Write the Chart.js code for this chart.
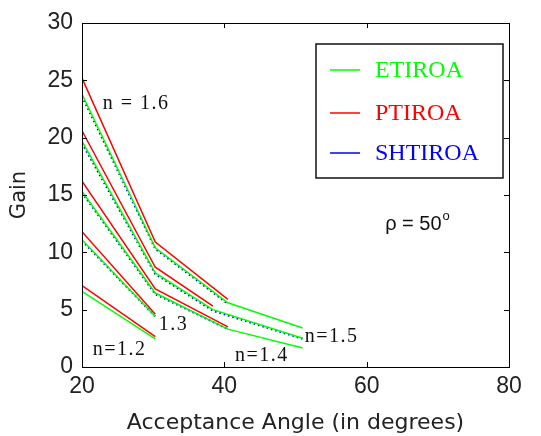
<!DOCTYPE html>
<html>
<head>
<meta charset="utf-8">
<script src="https://cdn.jsdelivr.net/npm/chart.js@4/dist/chart.umd.min.js"></script>
<style>
  html, body { margin: 0; padding: 0; background: #fff; }
  #wrap { width: 541px; height: 436px; }
</style>
</head>
<body>
<div id="wrap"><canvas id="myChart" width="541" height="436"></canvas></div>
<script>
// angles where the curves bend / end
const angles = [20, 30.3, 38.4, 40.5, 51];

// gain values per refractive index, null = no point there
const etiroa12 = [6.6, 2.45, null, null, null];
const etiroa13 = [11.1, 4.4, null, null, null];
const etiroa14 = [15.3, 6.45, null, 3.3, 1.65];
const etiroa15 = [19.7, 8.2, 5.0, null, 2.5];
const etiroa16 = [23.8, 10.4, null, 5.6, 3.4];

const ptiroa12 = [7.1, 2.65, null, null, null];
const ptiroa13 = [11.8, 4.6, null, null, null];
const ptiroa14 = [16.2, 6.8, null, 3.5, null];
const ptiroa15 = [20.6, 8.7, 5.3, null, null];
const ptiroa16 = [25.2, 10.9, null, 5.9, null];

const shtiroa13 = [11.0, 4.4, null, null, null];
const shtiroa14 = [15.2, 6.35, null, 3.3, null];
const shtiroa15 = [19.5, 8.1, 4.9, null, 2.45];
const shtiroa16 = [23.6, 10.3, null, 5.5, null];

const xTicks = [20, 40, 60, 80];
const yTicks = [0, 5, 10, 15, 20, 25, 30];

const noteText = ['n = 1.6', 'n=1.2', '1.3', 'n=1.4', 'n=1.5'];
const noteX = [22.9, 21.5, 30.8, 41.5, 51.3];
const noteY = [23.0, 1.5, 3.7, 0.95, 2.6];

function pts(vals) {
  const out = [];
  vals.forEach((v, i) => { if (v !== null) out.push({x: angles[i], y: v}); });
  return out;
}

function curve(label, vals, color, dashed) {
  return {
    label: label,
    data: pts(vals),
    borderColor: color,
    borderWidth: dashed ? 2 : 1.5,
    borderDash: dashed ? [1.5, 3] : [],
    pointRadius: 0,
    tension: 0,
    fill: false
  };
}

const green = '#00ff00', red = '#ff0000', blue = '#0000ff';

const datasets = [
  curve('ETIROA', etiroa12, green), curve('ETIROA', etiroa13, green), curve('ETIROA', etiroa14, green),
  curve('ETIROA', etiroa15, green), curve('ETIROA', etiroa16, green),
  curve('PTIROA', ptiroa12, red), curve('PTIROA', ptiroa13, red), curve('PTIROA', ptiroa14, red),
  curve('PTIROA', ptiroa15, red), curve('PTIROA', ptiroa16, red),
  curve('SHTIROA', shtiroa13, blue, true), curve('SHTIROA', shtiroa14, blue, true),
  curve('SHTIROA', shtiroa15, blue, true), curve('SHTIROA', shtiroa16, blue, true)
];

const legendItems = [['ETIROA', green], ['PTIROA', red], ['SHTIROA', blue]];

const decor = {
  id: 'decor',
  afterDraw(chart) {
    const c = chart.ctx, a = chart.chartArea;
    const xs = chart.scales.x, ys = chart.scales.y;
    c.save();
    // box and inward ticks
    c.strokeStyle = '#000';
    c.lineWidth = 1;
    c.strokeRect(a.left + 0.5, a.top + 0.5, a.right - a.left, a.bottom - a.top);
    c.beginPath();
    xTicks.slice(1, -1).forEach(v => {
      const p = Math.round(xs.getPixelForValue(v)) + 0.5;
      c.moveTo(p, a.bottom); c.lineTo(p, a.bottom - 5);
      c.moveTo(p, a.top); c.lineTo(p, a.top + 5);
    });
    yTicks.slice(1, -1).forEach(v => {
      const p = Math.round(ys.getPixelForValue(v)) + 0.5;
      c.moveTo(a.left, p); c.lineTo(a.left + 5, p);
      c.moveTo(a.right, p); c.lineTo(a.right - 5, p);
    });
    c.stroke();

    // n labels
    c.fillStyle = '#111';
    c.font = '20px "Liberation Serif"';
    c.letterSpacing = '1.5px';
    c.textBaseline = 'middle';
    c.textAlign = 'left';
    noteText.forEach((t, i) => {
      c.fillText(t, xs.getPixelForValue(noteX[i]), ys.getPixelForValue(noteY[i]));
    });
    c.letterSpacing = '0px';

    // rho note
    c.font = '20px "Liberation Sans"';
    const rx = xs.getPixelForValue(62.6), ry = ys.getPixelForValue(12.4);
    c.fillText('\u03c1 = 50', rx, ry);
    const w = c.measureText('\u03c1 = 50').width;
    c.font = '13px "Liberation Sans"';
    c.fillText('o', rx + w + 1, ry - 8);

    // legend box
    const bx = a.right - 193, by = a.top + 21, bw = 187, bh = 134;
    c.fillStyle = '#fff';
    c.fillRect(bx, by, bw, bh);
    c.lineWidth = 1.5;
    c.strokeStyle = '#111';
    c.strokeRect(bx, by, bw, bh);
    c.font = '24px "Liberation Serif"';
    const rows = [26, 69, 109];
    legendItems.forEach((it, i) => {
      const yy = by + rows[i];
      c.strokeStyle = it[1];
      c.lineWidth = 1.5;
      c.beginPath();
      c.moveTo(bx + 14, yy); c.lineTo(bx + 44, yy);
      c.stroke();
      c.fillStyle = it[1];
      c.fillText(it[0], bx + 59, yy + 1);
    });
    c.restore();
  }
};

const ctx = document.getElementById('myChart');
new Chart(ctx, {
  type: 'line',
  data: { datasets: datasets },
  options: {
    responsive: false,
    animation: false,
    layout: { padding: { top: 23, right: 32, left: 0, bottom: 0 } },
    plugins: { legend: { display: false }, tooltip: { enabled: false } },
    scales: {
      x: {
        type: 'linear', min: 20, max: 80,
        afterFit: s => { s.height = 69; },
        afterBuildTicks: s => { s.ticks = xTicks.map(v => ({value: v})); },
        grid: { display: false, drawTicks: false },
        border: { display: false },
        ticks: { color: '#222', padding: 6, font: { family: 'Liberation Sans', size: 23 } },
        title: { display: true, text: 'Acceptance Angle (in degrees)', color: '#222',
                 padding: { top: 0, bottom: 0 }, font: { family: 'DejaVu Sans', size: 22 } }
      },
      y: {
        min: 0, max: 30,
        afterFit: s => { s.width = 82; },
        afterBuildTicks: s => { s.ticks = yTicks.map(v => ({value: v})); },
        grid: { display: false, drawTicks: false },
        border: { display: false },
        ticks: { color: '#222', padding: 9, font: { family: 'Liberation Sans', size: 23 } },
        title: { display: true, text: 'Gain', color: '#222',
                 padding: { top: 7, bottom: 0 }, font: { family: 'DejaVu Sans', size: 21 } }
      }
    }
  },
  plugins: [decor]
});
</script>
</body>
</html>
